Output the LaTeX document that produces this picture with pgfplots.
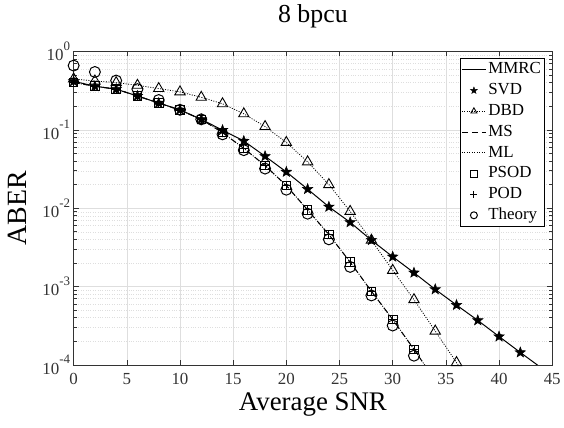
\documentclass[border=0pt]{standalone}
\usepackage{fontspec}
\setmainfont{Liberation Serif}
\usepackage{pgfplots}
\pgfplotsset{compat=1.18}
\usetikzlibrary{calc}

% filled five-pointed star, as MATLAB draws 'p'
\pgfdeclareplotmark{pstar}{%
  \pgfpathmoveto{\pgfpointpolar{90}{\pgfplotmarksize}}%
  \pgfpathlineto{\pgfpointpolar{126}{0.42\pgfplotmarksize}}%
  \pgfpathlineto{\pgfpointpolar{162}{\pgfplotmarksize}}%
  \pgfpathlineto{\pgfpointpolar{198}{0.42\pgfplotmarksize}}%
  \pgfpathlineto{\pgfpointpolar{234}{\pgfplotmarksize}}%
  \pgfpathlineto{\pgfpointpolar{270}{0.42\pgfplotmarksize}}%
  \pgfpathlineto{\pgfpointpolar{306}{\pgfplotmarksize}}%
  \pgfpathlineto{\pgfpointpolar{342}{0.42\pgfplotmarksize}}%
  \pgfpathlineto{\pgfpointpolar{18}{\pgfplotmarksize}}%
  \pgfpathlineto{\pgfpointpolar{54}{0.42\pgfplotmarksize}}%
  \pgfpathclose
  \pgfusepathqfillstroke}

\newcommand{\tp}[1]{10\raisebox{0.6em}{\fontsize{13}{13}\selectfont #1}}

% SNR in dB
\pgfplotstableread{
x     y
0     0.416
2     0.36
4     0.33
6     0.27
8     0.22
10    0.18
12    0.136
14    0.099
16    0.072
18    0.046
20    0.029
22    0.0175
24    0.0104
26    0.0066
28    0.0039
30    0.0024
32    0.0015
34    0.00092
36    0.00058
38    0.00037
40    0.00023
42    0.000144
44    0.000091
}\svd
\pgfplotstableread{
x     y
0     0.446
2     0.42
4     0.40
6     0.37
8     0.336
10    0.305
12    0.26
14    0.215
16    0.16
18    0.11
20    0.069
22    0.039
24    0.020
26    0.0091
28    0.0039
30    0.00161
32    0.00068
34    0.00027
36    0.000107
38    0.00004
}\dbd
\pgfplotstableread{
x     y
0     0.40
2     0.36
4     0.33
6     0.27
8     0.22
10    0.178
12    0.136
14    0.092
16    0.058
18    0.035
20    0.0194
22    0.0095
24    0.0046
26    0.00205
28    0.00087
30    0.00038
32    0.000158
34    0.000063
}\psod
\pgfplotstableread{
x     y
0     0.66
2     0.547
4     0.425
6     0.33
8     0.24
10    0.18
12    0.136
14    0.0875
16    0.055
18    0.032
20    0.0172
22    0.0085
24    0.0040
26    0.00178
28    0.00077
30    0.000318
32    0.000131
}\theory

\begin{document}
\begin{tikzpicture}
\begin{semilogyaxis}[
  scale only axis, width=481pt, height=315pt,
  xmin=0, xmax=45, ymin=1e-4, ymax=1,
  xtick={0,5,...,45},
  ytick={1e-4,1e-3,1e-2,1e-1,1},
  yticklabels={\tp{-4},\tp{-3},\tp{-2},\tp{-1},\tp{0}},
  /pgf/number format/assume math mode=true,
  xmajorgrids, ymajorgrids, yminorgrids,
  major grid style={black!13, line width=0.6pt},
  minor grid style={black!13, dotted, line width=0.5pt},
  tick align=inside, major tick length=5pt, minor tick length=3pt,
  axis line style={black!80, line width=0.7pt},
  every tick/.style={black!80, line width=0.6pt},
  ticklabel style={font=\fontsize{17}{17}\selectfont, text=black!80},
  xticklabel style={yshift=-5pt},
  yticklabel style={xshift=0pt},
  title={8 bpcu},
  title style={font=\fontsize{26}{26}\selectfont, at={(0.5,1)}, anchor=base, yshift=23.5pt},
  xlabel={Average SNR},
  xlabel style={font=\fontsize{27}{27}\selectfont, at={(0.5,0)}, anchor=base, yshift=-46pt},
  ylabel={ABER},
  ylabel style={font=\fontsize{28}{28}\selectfont, at={(0,0.5)}, anchor=base, rotate=0, yshift=47pt},
  legend cell align=left,
  legend style={at={(1,1)}, anchor=north east, xshift=-8pt, yshift=-6.6pt,
    draw=black, line width=0.6pt, fill=white,
    font=\fontsize{17}{17}\selectfont,
    inner xsep=1pt, inner ysep=1pt,
    nodes={text height=12pt, text depth=3.5pt, inner ysep=2.7pt}},
  legend image code/.code={%
    \draw[mark repeat=2, mark phase=2, mark size=3.5pt]
      plot coordinates {(0pt,0pt) (12pt,0pt) (24pt,0pt)};},
]
\addplot[black, line width=1pt] table {\svd};
\addlegendentry{MMRC}
\addplot[black, only marks, mark=pstar, mark size=5.5pt, mark options={line width=0.5pt, fill=black}] table {\svd};
\addlegendentry{SVD}
\addplot[black, line width=0.8pt, dash pattern=on 1pt off 1.5pt, mark=triangle, mark size=6pt, mark options={solid, line width=0.9pt}] table {\dbd};
\addlegendentry{DBD}
\addplot[black, line width=1pt, dash pattern=on 6pt off 4pt] table {\psod};
\addlegendentry{MS}
\addplot[black, line width=0.8pt, dash pattern=on 1pt off 1.5pt] table {\psod};
\addlegendentry{ML}
\addplot[black, only marks, mark=square, mark size=4.3pt, mark options={line width=0.9pt}] table {\psod};
\addlegendentry{PSOD}
\addplot[black, only marks, mark=+, mark size=4pt, mark options={line width=0.9pt}] table {\psod};
\addlegendentry{POD}
\addplot[black, only marks, mark=o, mark size=5.5pt, mark options={line width=1pt}] table {\theory};
\addlegendentry{Theory}
\end{semilogyaxis}
\useasboundingbox ([shift={(-74pt,-63.3pt)}]current axis.south west)
  rectangle ([shift={(9pt,51.7pt)}]current axis.north east);
\end{tikzpicture}
\end{document}
